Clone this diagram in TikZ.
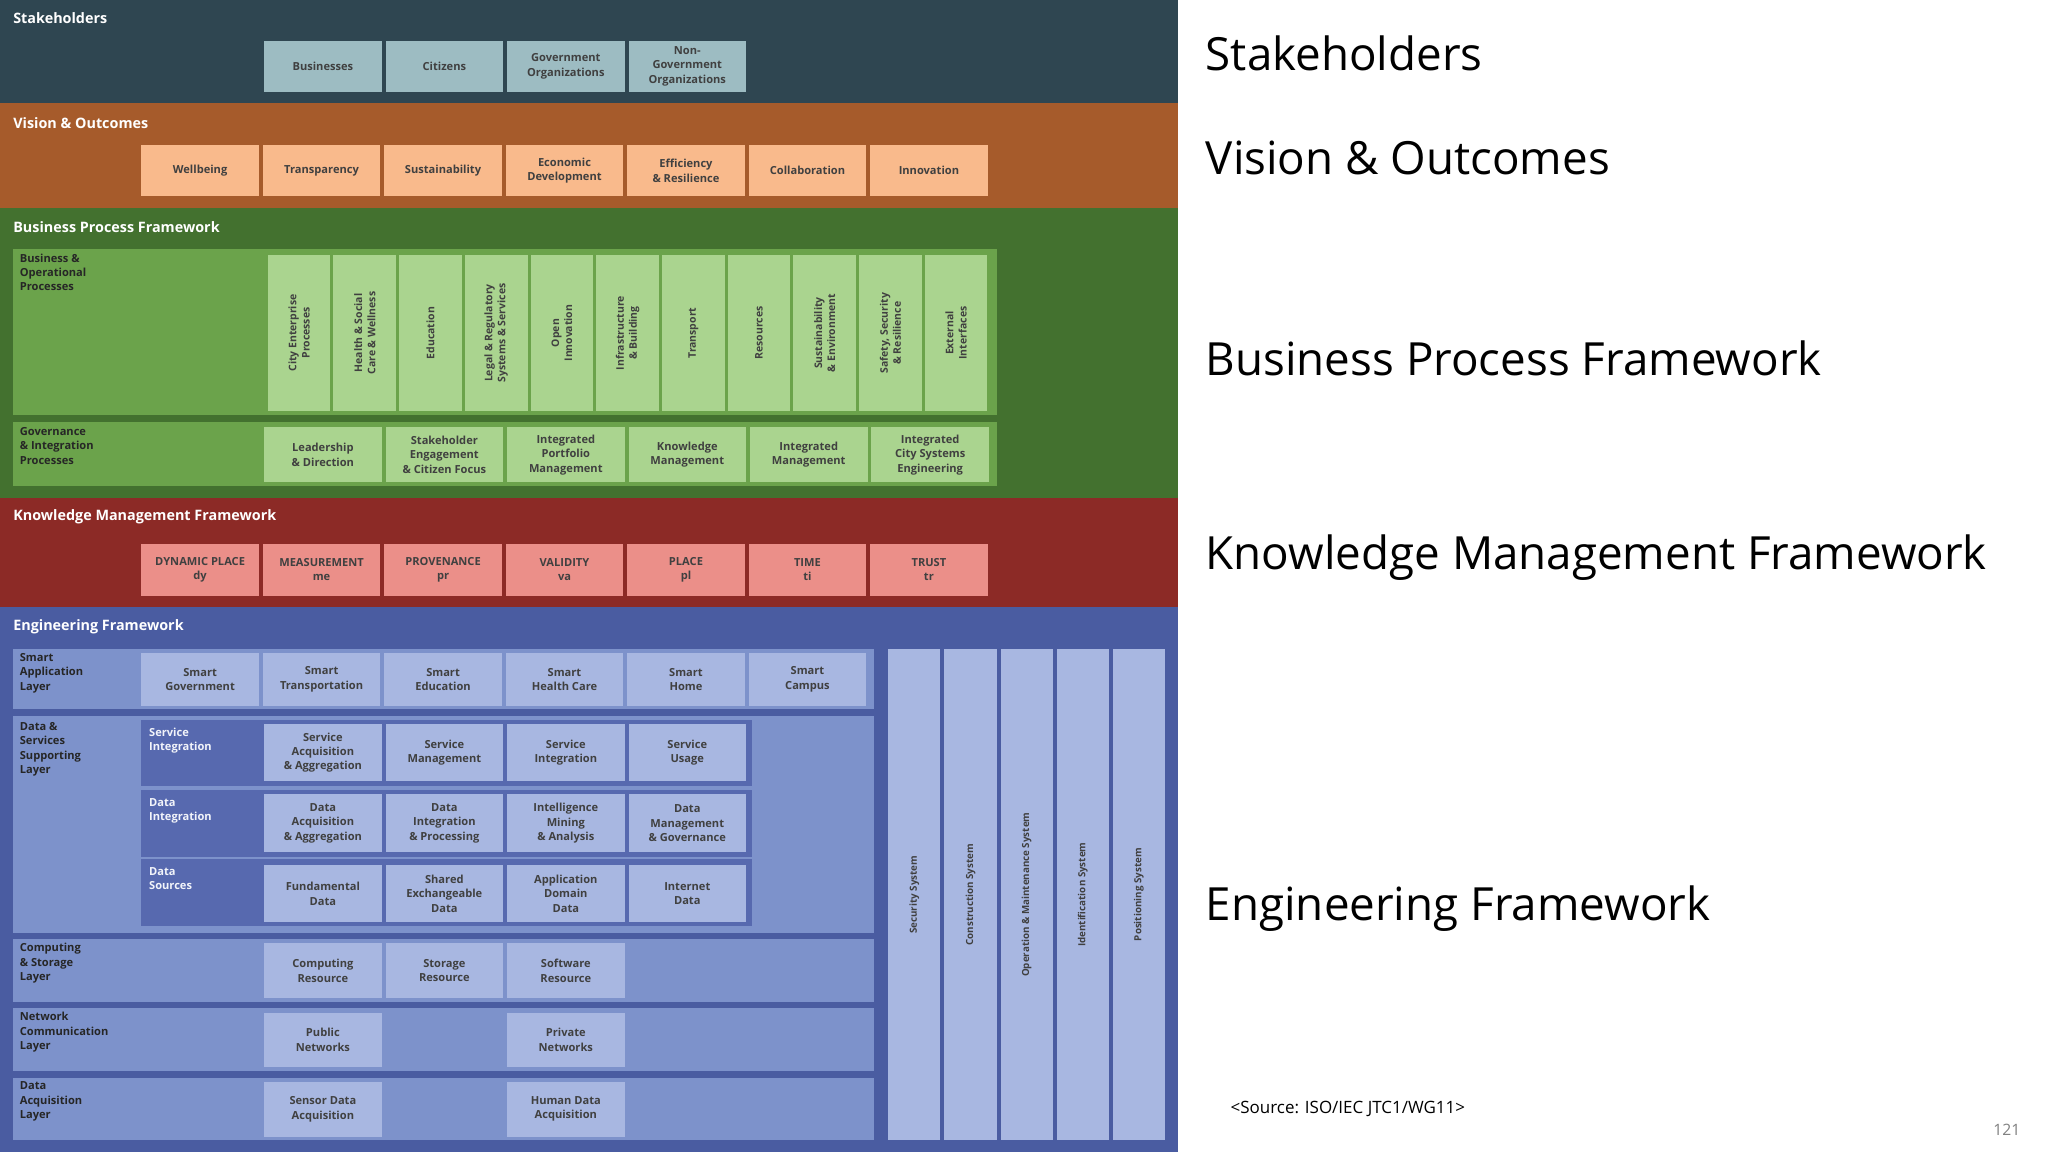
\documentclass[tikz,border=0pt]{standalone}
\usepackage{fontspec}
\setmainfont{Open Sans}
\begin{document}
\begin{tikzpicture}[x=1pt,y=-1pt,
  bx/.style={fill=#1,draw=none,align=center,inner sep=0pt,font=\fontsize{8.5}{11}\selectfont\bfseries,text=black!75},
  ttl/.style={anchor=west,text=white,font=\fontsize{11}{13}\selectfont\bfseries,inner sep=0pt},
  plab/.style={anchor=north west,align=left,font=\fontsize{8.5}{11}\selectfont\bfseries,inner sep=0pt,text=black!85},
  big/.style={anchor=west,font=\fontsize{35}{40}\selectfont,inner sep=0pt}]
\definecolor{cS}{HTML}{2F4651}\definecolor{cSb}{HTML}{9DBCC2}
\definecolor{cV}{HTML}{A65B2B}\definecolor{cVb}{HTML}{F9BA8C}
\definecolor{cB}{HTML}{43712F}\definecolor{cBp}{HTML}{6BA34B}\definecolor{cBb}{HTML}{AAD48F}
\definecolor{cK}{HTML}{8C2A26}\definecolor{cKb}{HTML}{EB8F89}
\definecolor{cE}{HTML}{4A5CA1}\definecolor{cEp}{HTML}{7D92CB}\definecolor{cEs}{HTML}{5769AF}\definecolor{cEb}{HTML}{A8B7E1}
\useasboundingbox (0,0) rectangle (1568,882);
\fill[white] (0,0) rectangle (1568,882);
% bands
\fill[cS] (0,0) rectangle (902,79);
\fill[cV] (0,79) rectangle (902,159);
\fill[cB] (0,159) rectangle (902,381);
\fill[cK] (0,381) rectangle (902,465);
\fill[cE] (0,465) rectangle (902,882);
\node[ttl] (tS) at (10,14) {Stakeholders};
\node[ttl] (tV) at (10,94) {Vision \& Outcomes};
\node[ttl] (tB) at (10,174) {Business Process Framework};
\node[ttl] (tK) at (10,396) {Knowledge Management Framework};
\node[ttl] (tE) at (10,480) {Engineering Framework};
% stakeholders
\foreach \t [count=\i from 0] in {Businesses,Citizens,{Government\\Organizations},{Non-\\Government\\Organizations}}
  \node[bx=cSb,minimum width=90,minimum height=39,anchor=north west] (s\i) at (202+93*\i,31) {\t};
% vision
\foreach \t [count=\i from 0] in {Wellbeing,Transparency,Sustainability,{Economic\\Development},{Efficiency\\\& Resilience},Collaboration,Innovation}
  \node[bx=cVb,minimum width=90,minimum height=39,anchor=north west] (v\i) at (108+93*\i,111) {\t};
% BPF
\fill[cBp] (10,191) rectangle (763,318);
\fill[cBp] (10,323) rectangle (763,372);
\node[plab] (pb1) at (15,194) {Business \&\\Operational\\Processes};
\node[plab] (pb2) at (15,327) {Governance\\\& Integration\\Processes};
\foreach \t [count=\i from 0] in {{City Enterprise\\Processes},{Health \& Social\\Care \& Wellness},Education,{Legal \& Regulatory\\Systems \& Services},{Open\\Innovation},{Infrastructure\\\& Building},Transport,Resources,{Sustainability\\\& Environment},{Safety, Security\\\& Resilience},{External\\Interfaces}}
  \node[bx=cBb,minimum width=120,minimum height=48,rotate=90,font=\fontsize{8}{10}\selectfont\bfseries] (bv\i) at (229+50.3*\i,255) {\t};
\foreach \t [count=\i from 0] in {{Leadership\\\& Direction},{Stakeholder\\Engagement\\\& Citizen Focus},{Integrated\\Portfolio\\Management},{Knowledge\\Management},{Integrated\\Management},{Integrated\\City Systems\\Engineering}}
  \node[bx=cBb,minimum width=90,minimum height=42,anchor=north west] (g\i) at (202+93*\i,327) {\t};
% KMF
\foreach \t/\s [count=\i from 0] in {DYNAMIC PLACE/dy,MEASUREMENT/me,PROVENANCE/pr,VALIDITY/va,PLACE/pl,TIME/ti,TRUST/tr}
  \node[bx=cKb,minimum width=90,minimum height=40,anchor=north west] (k\i) at (108+93*\i,416) {\t\\\s};
% Engineering panels
\fill[cEp] (10,497) rectangle (669,543);
\fill[cEp] (10,548) rectangle (669,714);
\fill[cEp] (10,719) rectangle (669,767);
\fill[cEp] (10,772) rectangle (669,820);
\fill[cEp] (10,825) rectangle (669,873);
\node[plab] (e1) at (15,500) {Smart\\Application\\Layer};
\node[plab] (e2) at (15,553) {Data \&\\Services\\Supporting\\Layer};
\node[plab] (e3) at (15,722) {Computing\\\& Storage\\Layer};
\node[plab] (e4) at (15,775) {Network\\Communication\\Layer};
\node[plab] (e5) at (15,828) {Data\\Acquisition\\Layer};
\foreach \t [count=\i from 0] in {{Smart\\Government},{Smart\\Transportation},{Smart\\Education},{Smart\\Health Care},{Smart\\Home},{Smart\\Campus}}
  \node[bx=cEb,minimum width=90,minimum height=40,anchor=north west] (sa\i) at (108+93*\i,500) {\t};
\foreach \y/\t [count=\j] in {551/{Service\\Integration},605/{Data\\Integration},658/{Data\\Sources}}{
  \fill[cEs] (108,\y) rectangle (576,\y+51);
  \node[plab,text=white!85!cEb] (sub\j) at (114,\y+6) {\t};}
\foreach \t [count=\i from 0] in {{Service\\Acquisition\\\& Aggregation},{Service\\Management},{Service\\Integration},{Service\\Usage}}
  \node[bx=cEb,minimum width=90,minimum height=44,anchor=north west] (d1\i) at (202+93*\i,554) {\t};
\foreach \t [count=\i from 0] in {{Data\\Acquisition\\\& Aggregation},{Data\\Integration\\\& Processing},{Intelligence\\Mining\\\& Analysis},{Data\\Management\\\& Governance}}
  \node[bx=cEb,minimum width=90,minimum height=44,anchor=north west] (d2\i) at (202+93*\i,608) {\t};
\foreach \t [count=\i from 0] in {{Fundamental\\Data},{Shared\\Exchangeable\\Data},{Application\\Domain\\Data},{Internet\\Data}}
  \node[bx=cEb,minimum width=90,minimum height=44,anchor=north west] (d3\i) at (202+93*\i,662) {\t};
\foreach \t [count=\i from 0] in {{Computing\\Resource},{Storage\\Resource},{Software\\Resource}}
  \node[bx=cEb,minimum width=90,minimum height=42,anchor=north west] (c\i) at (202+93*\i,722) {\t};
\node[bx=cEb,minimum width=90,minimum height=42,anchor=north west] (n0) at (202,775) {Public\\Networks};
\node[bx=cEb,minimum width=90,minimum height=42,anchor=north west] (n1) at (388,775) {Private\\Networks};
\node[bx=cEb,minimum width=90,minimum height=42,anchor=north west] (a0) at (202,828) {Sensor Data\\Acquisition};
\node[bx=cEb,minimum width=90,minimum height=42,anchor=north west] (a1) at (388,828) {Human Data\\Acquisition};
\foreach \t [count=\i from 0] in {Security System,Construction System,Operation \& Maintenance System,Identification System,Positioning System}
  \node[bx=cEb,minimum width=376,minimum height=40,rotate=90,font=\fontsize{7.5}{9}\selectfont\bfseries] (sys\i) at (700+43*\i,685) {\t};
% right side
\node[big] (rS) at (923,41) {Stakeholders};
\node[big] (rV) at (923,121) {Vision \& Outcomes};
\node[big] (rB) at (923,274) {Business Process Framework};
\node[big] (rK) at (923,427) {Knowledge Management Framework};
\node[big] (rE) at (923,696) {Engineering Framework};
\node[anchor=west,inner sep=0pt,font=\fontsize{13}{15}\selectfont] (src) at (942,849) {<Source: ISO/IEC JTC1/WG11>};
\node[anchor=west,inner sep=0pt,text=black!50,font=\fontsize{12}{14}\selectfont] (pg) at (1526,865) {121};
\end{tikzpicture}
\end{document}
